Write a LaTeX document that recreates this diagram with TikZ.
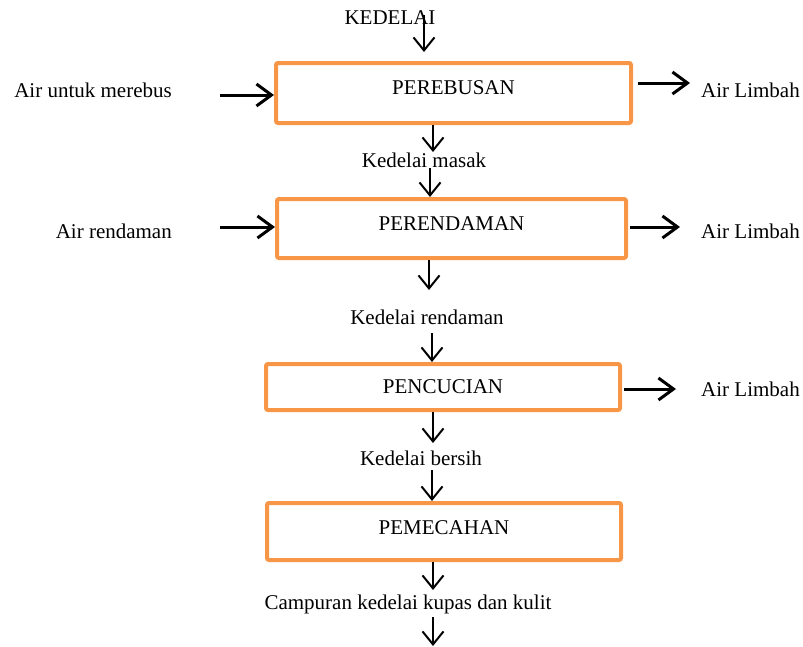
\documentclass[tikz,border=0pt]{standalone}
\usepackage{fontspec}
\setmainfont{Liberation Serif}
\usetikzlibrary{arrows.meta}
\definecolor{boxorange}{HTML}{F79646}
\tikzset{
  procbox/.style={draw=boxorange, line width=4pt, rounded corners=2pt, inner sep=0pt, font=\fontsize{21}{25}\selectfont},
  lbl/.style={inner sep=0pt, font=\fontsize{21}{25}\selectfont},
  varrow/.style={line width=2pt, -{Straight Barb[length=13pt, width=21pt]}},
  harrow/.style={line width=3pt, -{Straight Barb[length=15pt, width=22pt]}}
}
\begin{document}
\begin{tikzpicture}[x=1pt,y=-1pt]
\useasboundingbox (0,0) rectangle (803,646);
% boxes
\node[procbox, minimum width=355pt, minimum height=60pt, text depth=10pt] (b1) at (453.5,93) {PEREBUSAN};
\node[procbox, minimum width=349pt, minimum height=59pt, text depth=9pt] (b2) at (451.5,228.5) {PERENDAMAN};
\node[procbox, minimum width=354pt, minimum height=46pt] (b3) at (443,387) {PENCUCIAN};
\node[procbox, minimum width=354pt, minimum height=57pt, text depth=7pt] (b4) at (444,531.5) {PEMECAHAN};
% labels
\node[lbl] (kedelai) at (390,18) {KEDELAI};
\node[lbl, anchor=east] (airrebus) at (172,90) {Air untuk merebus};
\node[lbl, anchor=east] (airrendam) at (172,231) {Air rendaman};
\node[lbl, anchor=west] (limbah1) at (701,90) {Air Limbah};
\node[lbl, anchor=west] (limbah2) at (701,231) {Air Limbah};
\node[lbl, anchor=west] (limbah3) at (701,389) {Air Limbah};
\node[lbl] (masak) at (424,160) {Kedelai masak};
\node[lbl] (rendaman) at (427,317) {Kedelai rendaman};
\node[lbl] (bersih) at (421,458) {Kedelai bersih};
\node[lbl] (campuran) at (408,604) {Campuran kedelai kupas dan kulit};
% free ends
\coordinate (k0) at (424,15);
\coordinate (k1) at (424,52);
\coordinate (m1) at (433,152);
\coordinate (m2a) at (430,168);
\coordinate (m3) at (429,290);
\coordinate (m4a) at (432,333);
\coordinate (m5) at (433,443);
\coordinate (m6a) at (432,470);
\coordinate (m7) at (433,590);
\coordinate (l1) at (220,95);
\coordinate (l2) at (220,227);
\coordinate (r1) at (690,83);
\coordinate (r2) at (680,227);
\coordinate (r3) at (676,389);
\coordinate (e0) at (433,617);
\coordinate (e1) at (433,646);
% vertical arrows
\draw[varrow] (k0) -- (k1);
\draw[varrow] (b1.south -| m1) -- (m1);
\draw[varrow] (m2a) -- (m2a |- b2.north);
\draw[varrow] (b2.south -| m3) -- (m3);
\draw[varrow] (m4a) -- (m4a |- b3.north);
\draw[varrow] (b3.south -| m5) -- (m5);
\draw[varrow] (m6a) -- (m6a |- b4.north);
\draw[varrow] (b4.south -| m7) -- (m7);
\draw[varrow] (e0) -- (e1);
% horizontal arrows
\draw[harrow] (l1) -- (l1 -| b1.west);
\draw[harrow] (l2) -- (l2 -| b2.west);
\draw[harrow] ([xshift=5pt]b1.east |- r1) -- (r1);
\draw[harrow] ([xshift=2pt]b2.east |- r2) -- (r2);
\draw[harrow] ([xshift=2pt]b3.east |- r3) -- (r3);
\end{tikzpicture}
\end{document}
